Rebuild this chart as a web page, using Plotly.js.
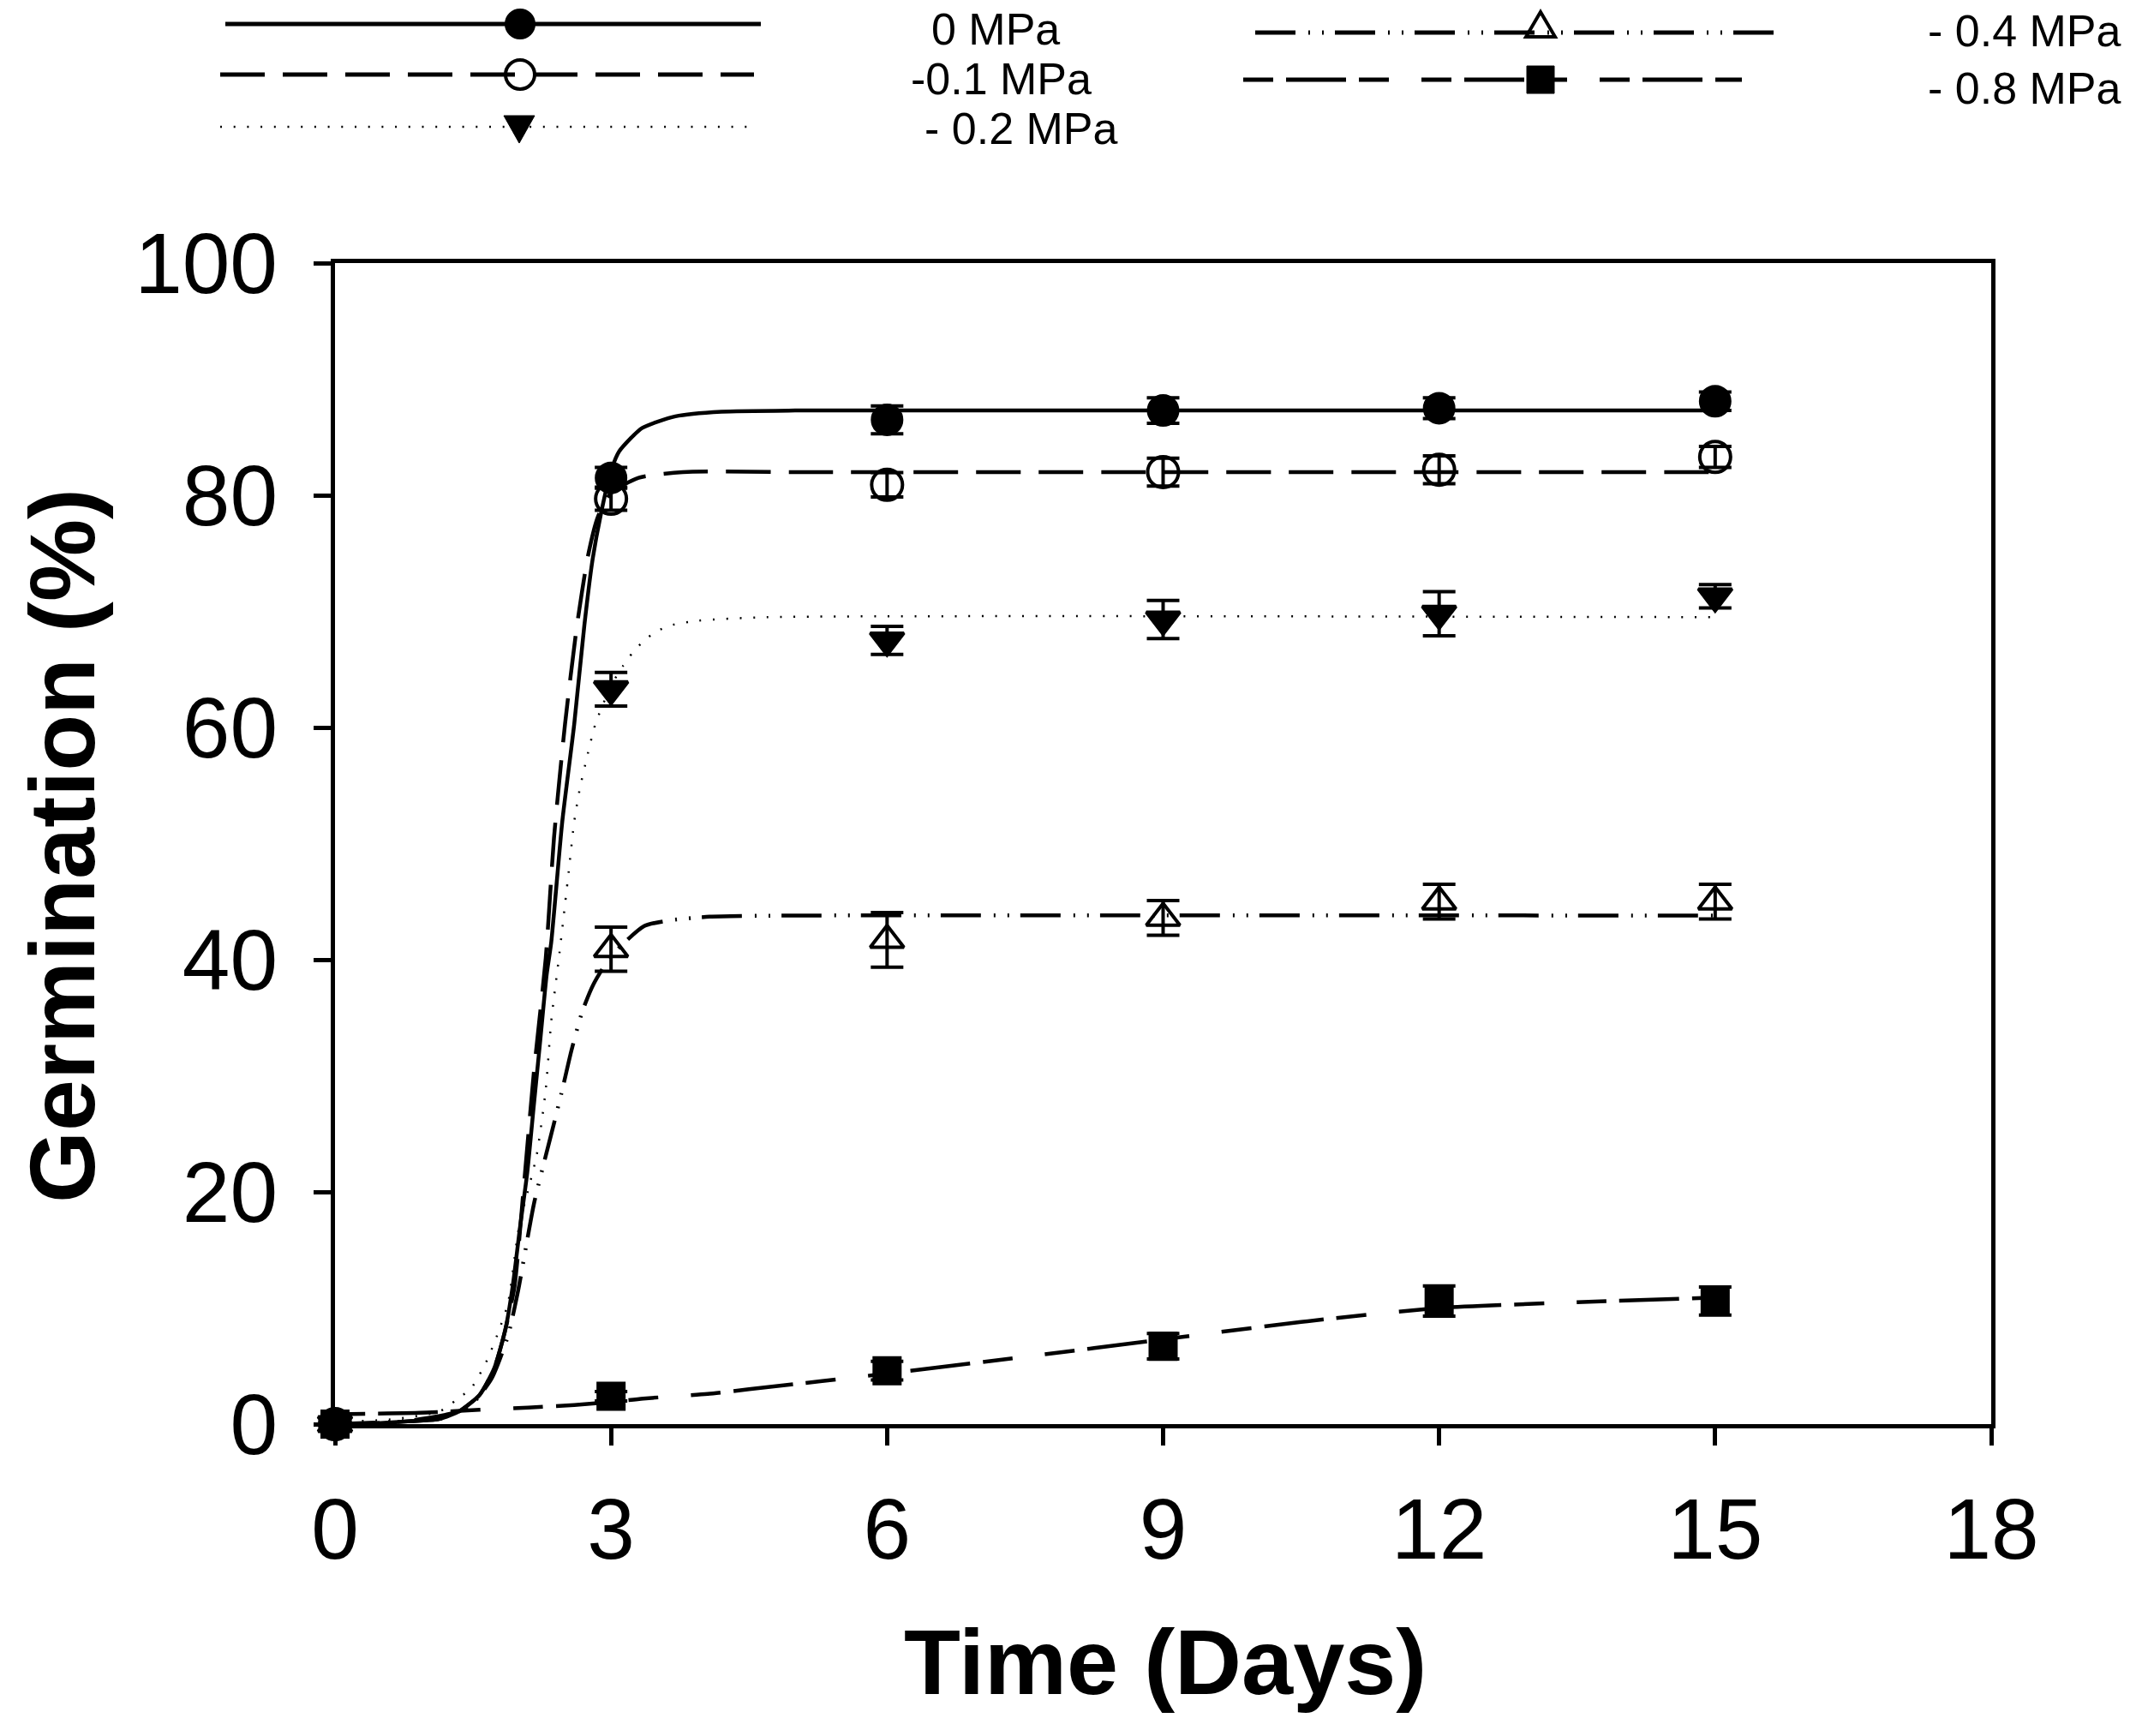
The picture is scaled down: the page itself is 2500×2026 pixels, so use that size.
<!DOCTYPE html>
<html>
<head>
<meta charset="utf-8">
<script src="https://cdn.plot.ly/plotly-3.0.1.min.js"></script>
<style>
  html, body { margin: 0; padding: 0; background: #fff; }
  #chart { width: 2500px; height: 2026px; }
</style>
</head>
<body>
<div id="chart"></div>
<script>
// sampling days and measured germination (%) with error bars
var days = [0, 3, 6, 9, 12, 15];

var g0   = [0, 81.5, 86.5, 87.3, 87.5, 88.1];
var e0   = [0.3, 0.9, 1.2, 1.1, 0.9, 0.8];
var g01  = [0, 79.7, 80.9, 82.0, 82.2, 83.3];
var e01  = [0.3, 1.0, 1.05, 1.2, 1.2, 0.9];
var g02  = [0, 63.3, 67.5, 69.3, 69.8, 71.3];
var e02  = [0.3, 1.45, 1.2, 1.65, 1.9, 1.0];
var g04  = [0, 40.9, 41.7, 43.6, 45.0, 45.0];
var e04  = [0.3, 1.9, 2.35, 1.5, 1.5, 1.5];
var g08  = [0, 2.4, 4.6, 6.7, 10.6, 10.6];
var e08  = [0.3, 0.4, 0.8, 1.1, 1.3, 1.2];

// fitted curves
var fit0x  = [0, 0.5, 0.83, 1.14, 1.35, 1.57, 1.73, 1.85, 1.93, 2.01, 2.09, 2.16, 2.23, 2.30, 2.35, 2.47, 2.60, 2.71, 2.80, 2.89, 3.0, 3.09, 3.34, 3.7, 4.2, 5, 15];
var fit0y  = [0, 0.1, 0.25, 0.45, 1.1, 2.5, 4.8, 8.1, 11.8, 16.9, 21.7, 27.4, 33.0, 38.7, 41.5, 51.9, 60.3, 68.8, 74.5, 78.4, 82.1, 83.8, 85.8, 86.8, 87.2, 87.3, 87.3];
var fit01x = [0, 0.5, 0.83, 1.14, 1.35, 1.57, 1.73, 1.85, 1.95, 2.05, 2.16, 2.29, 2.38, 2.50, 2.63, 2.75, 2.86, 3.0, 3.3, 3.78, 5, 15];
var fit01y = [0, 0.1, 0.25, 0.45, 1.1, 2.5, 4.8, 8.1, 11.8, 20.3, 30.2, 40.1, 50.5, 60.3, 68.8, 74.8, 78.2, 80.2, 81.5, 82.0, 82.0, 82.0];
var fit02x = [0, 0.6, 1.14, 1.32, 1.48, 1.64, 1.76, 1.88, 2.0, 2.19, 2.29, 2.35, 2.44, 2.54, 2.60, 2.66, 2.74, 2.83, 3.0, 3.13, 3.23, 3.36, 3.5, 3.65, 3.95, 4.69, 15];
var fit02y = [0.2, 0.4, 1.1, 2.1, 3.1, 5.3, 7.6, 10.4, 17.0, 23.1, 28.8, 34.7, 40.6, 47.6, 51.9, 54.7, 57.5, 60.3, 63.6, 65.3, 66.4, 67.5, 68.3, 68.8, 69.2, 69.5, 69.5];
var fit04x = [0, 0.8, 1.2, 1.45, 1.70, 1.88, 1.99, 2.16, 2.29, 2.38, 2.47, 2.57, 2.69, 2.81, 3.0, 3.36, 3.65, 4.07, 5, 15];
var fit04y = [0, 0.3, 0.8, 1.4, 3.9, 7.6, 11.5, 18.9, 23.1, 25.9, 28.8, 32.2, 35.6, 37.9, 40.3, 42.9, 43.4, 43.7, 43.8, 43.8];
var fit08x = [0, 1, 1.57, 2.1, 2.6, 3, 3.35, 4.05, 4.5, 6, 7.5, 9, 10.5, 12, 13.5, 15];
var fit08y = [0.85, 1.0, 1.23, 1.42, 1.65, 1.9, 2.2, 2.6, 3.0, 4.35, 5.8, 7.3, 8.8, 10.0, 10.5, 10.9];

var seriesNames = ['0 MPa', '-0.1 MPa', '- 0.2 MPa', '- 0.4 MPa', '- 0.8 MPa'];

// plot box in page pixels
var L = 391, R = 2324, T = 307, B = 1662;
function px(x) { return (x - L) / (R - L); }
function py(y) { return (B - y) / (B - T); }

var dashes = {
  d0: 'solid',
  d01: '52px,21px',
  d02: '2px,13.7px',
  d04: '47px,15px,2px,14px,2px,13px',
  d08: '35px,15px,70px,15px,35px,38px'
};

function fitTrace(x, y, dash, w) {
  return {
    x: x, y: y, mode: 'lines', hoverinfo: 'skip', cliponaxis: false,
    line: {color: 'black', width: w, dash: dash, shape: 'spline', smoothing: 0.6}
  };
}

function pointTrace(name, y, err, symbol, size, fill) {
  return {
    name: name, x: days, y: y, mode: 'markers', cliponaxis: false,
    marker: {symbol: symbol, size: size, color: fill, line: {color: 'black', width: 4}},
    error_y: {type: 'data', array: err, visible: true, color: 'black', thickness: 4, width: 19}
  };
}

var data = [
  fitTrace(fit0x, fit0y, dashes.d0, 4.5),
  fitTrace(fit01x, fit01y, dashes.d01, 4.5),
  fitTrace(fit02x, fit02y, dashes.d02, 2.5),
  fitTrace(fit04x, fit04y, dashes.d04, 4.5),
  fitTrace(fit08x, fit08y, dashes.d08, 4.5),
  pointTrace(seriesNames[4], g08, e08, 'square', 30, 'black'),
  pointTrace(seriesNames[3], g04, e04, 'triangle-up-open', 34, 'black'),
  pointTrace(seriesNames[2], g02, e02, 'triangle-down', 34, 'black'),
  pointTrace(seriesNames[1], g01, e01, 'circle-open', 36, 'black'),
  pointTrace(seriesNames[0], g0, e0, 'circle', 34, 'black')
];

var font = 'Liberation Sans, Arial, sans-serif';

// legend drawn as page decoration (long line samples like the original)
var shapes = [];
var annotations = [];
function legendLine(x0, x1, y, dash, w) {
  shapes.push({type: 'line', xref: 'paper', yref: 'paper', x0: px(x0), x1: px(x1), y0: py(y), y1: py(y),
    line: {color: 'black', width: w, dash: dash}});
}
function legendMarker(kind, cx, cy) {
  var s = {xref: 'paper', yref: 'paper', xsizemode: 'pixel', ysizemode: 'pixel',
    xanchor: px(cx), yanchor: py(cy), line: {color: 'black', width: 4}, fillcolor: 'rgba(0,0,0,0)'};
  if (kind === 'circle' || kind === 'circle-open') {
    s.type = 'circle'; s.x0 = -17; s.x1 = 17; s.y0 = -17; s.y1 = 17;
    if (kind === 'circle') { s.fillcolor = 'black'; s.line.width = 2; }
  } else if (kind === 'square') {
    s.type = 'rect'; s.x0 = -16; s.x1 = 16; s.y0 = -16; s.y1 = 16; s.fillcolor = 'black'; s.line.width = 1;
  } else if (kind === 'tri-down') {
    s.type = 'path'; s.path = 'M-18,13 L18,13 L0,-19 Z'; s.fillcolor = 'black'; s.line.width = 1;
  } else if (kind === 'tri-up') {
    s.type = 'path'; s.path = 'M-17,-5 L17,-5 L0,24 Z';
  }
  shapes.push(s);
}
function legendText(text, x, y) {
  annotations.push({text: text, xref: 'paper', yref: 'paper', x: px(x), y: py(y),
    xanchor: 'left', yanchor: 'middle', showarrow: false,
    font: {family: font, size: 52, color: 'black'}});
}

legendLine(263, 888, 28, dashes.d0, 5);   legendMarker('circle', 607, 28);        legendText(seriesNames[0], 1085, 34);
legendLine(257, 880, 87, dashes.d01, 5);  legendMarker('circle-open', 607, 87);   legendText(seriesNames[1], 1061, 92);
legendLine(257, 880, 148, dashes.d02, 2.5); legendMarker('tri-down', 606, 148);   legendText(seriesNames[2], 1077, 150);
legendLine(1465, 2073, 38, dashes.d04, 5); legendMarker('tri-up', 1798, 38);      legendText(seriesNames[3], 2248, 36);
legendLine(1451, 2033, 93, dashes.d08, 5); legendMarker('square', 1798, 93);      legendText(seriesNames[4], 2248, 103);

// axis titles
annotations.push({text: '<b>Germination (%)</b>', xref: 'paper', yref: 'paper', x: px(72), y: py(987),
  xanchor: 'center', yanchor: 'middle', textangle: -90, showarrow: false,
  font: {family: font, size: 108, color: 'black'}});
annotations.push({text: '<b>Time (Days)</b>', xref: 'paper', yref: 'paper', x: px(1360), y: py(1940),
  xanchor: 'center', yanchor: 'middle', showarrow: false,
  font: {family: font, size: 108, color: 'black'}});

var axisCommon = {
  ticks: 'outside', ticklen: 20, tickwidth: 5, tickcolor: 'black',
  showline: true, linewidth: 5, linecolor: 'black', mirror: true,
  showgrid: false, zeroline: false,
  tickfont: {family: font, size: 100, color: 'black'}
};

var layout = {
  width: 2500, height: 2026,
  margin: {l: L, r: 2500 - R, t: T, b: 2026 - B},
  paper_bgcolor: 'white', plot_bgcolor: 'white',
  showlegend: false,
  font: {family: font, color: 'black'},
  xaxis: Object.assign({}, axisCommon, {range: [0, 18], tickvals: [0, 3, 6, 9, 12, 15, 18], ticklabelstandoff: 12}),
  yaxis: Object.assign({}, axisCommon, {range: [0, 100], tickvals: [0, 20, 40, 60, 80, 100], ticklabelstandoff: 22}),
  shapes: shapes,
  annotations: annotations
};

Plotly.newPlot('chart', data, layout, {staticPlot: true});
</script>
</body>
</html>
